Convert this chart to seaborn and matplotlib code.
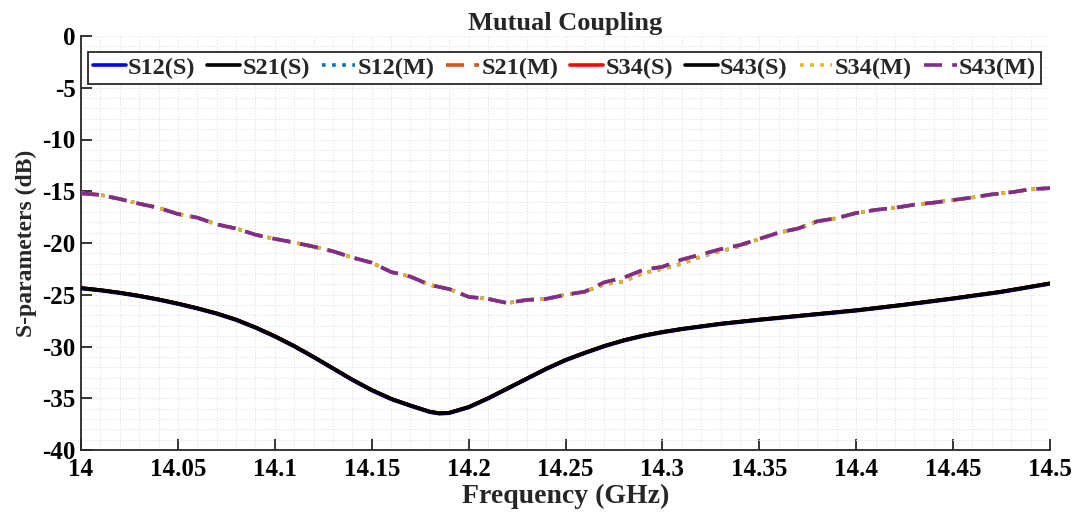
import numpy as np
import pandas as pd
import matplotlib
matplotlib.use("Agg")
import matplotlib.pyplot as plt
import seaborn as sns

# ---------------- data ----------------
freq_meas = [14.00, 14.01, 14.02, 14.03, 14.04, 14.05, 14.06, 14.07, 14.08, 14.09,
             14.10, 14.11, 14.12, 14.13, 14.14, 14.15, 14.16, 14.17, 14.18, 14.19,
             14.20, 14.21, 14.22, 14.23, 14.24, 14.25, 14.26, 14.27, 14.28, 14.29,
             14.30, 14.31, 14.32, 14.33, 14.34, 14.35, 14.36, 14.37, 14.38, 14.39,
             14.40, 14.41, 14.42, 14.43, 14.44, 14.45, 14.46, 14.47, 14.48, 14.49, 14.50]

s34_meas = [-15.2, -15.35, -15.75, -16.2, -16.6, -17.2, -17.55, -18.2, -18.6, -19.2,
            -19.6, -19.95, -20.35, -20.8, -21.4, -21.9, -22.8, -23.25, -24.05, -24.45,
            -25.2, -25.4, -25.8, -25.5, -25.4, -25.0, -24.7, -24.0, -23.7, -22.9,
            -22.5, -22.0, -21.3, -20.8, -20.3, -19.6, -19.0, -18.6, -17.9, -17.6,
            -17.1, -16.8, -16.6, -16.3, -16.1, -15.85, -15.6, -15.3, -15.1, -14.8, -14.7]

s43_meas = [-15.2, -15.35, -15.75, -16.2, -16.6, -17.2, -17.55, -18.2, -18.6, -19.2,
            -19.6, -19.95, -20.35, -20.8, -21.4, -21.9, -22.8, -23.25, -24.05, -24.45,
            -25.2, -25.4, -25.8, -25.5, -25.4, -25.0, -24.7, -23.8, -23.35, -22.6,
            -22.3, -21.6, -21.1, -20.6, -20.2, -19.6, -19.0, -18.6, -17.9, -17.6,
            -17.1, -16.8, -16.6, -16.3, -16.1, -15.85, -15.6, -15.3, -15.1, -14.8, -14.7]

s12_meas = s34_meas
s21_meas = s43_meas

freq_sim = [14.00, 14.01, 14.02, 14.03, 14.04, 14.05, 14.06, 14.07, 14.08, 14.09,
            14.10, 14.11, 14.12, 14.13, 14.14, 14.15, 14.16, 14.17, 14.18, 14.185,
            14.19, 14.20, 14.21, 14.22, 14.23, 14.24, 14.25, 14.26, 14.27, 14.28,
            14.29, 14.30, 14.31, 14.32, 14.33, 14.35, 14.375, 14.40, 14.425, 14.45,
            14.475, 14.50]

s21_sim = [-24.35, -24.55, -24.8, -25.1, -25.45, -25.85, -26.3, -26.8, -27.4, -28.15,
           -29.0, -29.95, -31.0, -32.1, -33.2, -34.2, -35.05, -35.7, -36.3, -36.45,
           -36.4, -35.85, -35.0, -34.05, -33.1, -32.15, -31.3, -30.6, -29.95, -29.4,
           -28.95, -28.6, -28.3, -28.05, -27.8, -27.4, -26.95, -26.5, -25.95, -25.35,
           -24.7, -23.9]
s12_sim = [-24.4, -24.6, -24.85, -25.15, -25.5, -25.9, -26.35, -26.85, -27.45, -28.2,
           -29.05, -30.0, -31.05, -32.15, -33.25, -34.25, -35.1, -35.75, -36.35, -36.5,
           -36.45, -35.9, -35.05, -34.1, -33.15, -32.2, -31.35, -30.65, -30.0, -29.45,
           -29.0, -28.65, -28.35, -28.1, -27.85, -27.45, -27.0, -26.55, -26.0, -25.4,
           -24.75, -23.95]
s34_sim = s21_sim
s43_sim = s21_sim

x_ticks = [14.0, 14.05, 14.1, 14.15, 14.2, 14.25, 14.3, 14.35, 14.4, 14.45, 14.5]
x_tick_labels = ["14", "14.05", "14.1", "14.15", "14.2", "14.25", "14.3", "14.35", "14.4", "14.45", "14.5"]
y_ticks = [0, -5, -10, -15, -20, -25, -30, -35, -40]
y_tick_labels = ["0", "-5", "-10", "-15", "-20", "-25", "-30", "-35", "-40"]

# ---------------- style ----------------
sns.set_theme(style="white")
plt.rcParams['font.family'] = ['Liberation Serif', 'DejaVu Serif']
plt.rcParams['font.weight'] = 'bold'
plt.rcParams['axes.unicode_minus'] = False

fig = plt.figure(figsize=(10.77, 5.14), dpi=100)
ax = fig.add_axes([81/1077, 1-450/514, (1050-81)/1077, (450-36)/514])

lw = 2.6
series = [
    ("S12(S)", freq_sim, s12_sim, "#0000FF", "-"),
    ("S21(S)", freq_sim, s21_sim, "#000000", "-"),
    ("S12(M)", freq_meas, s12_meas, "#0072BD", (0, (1, 1.8))),
    ("S21(M)", freq_meas, s21_meas, "#D95319", (0, (5, 2.8))),
    ("S34(S)", freq_sim, s34_sim, "#FF0000", "-"),
    ("S43(S)", freq_sim, s43_sim, "#000000", "-"),
    ("S34(M)", freq_meas, s34_meas, "#EDB120", (0, (1, 1.8))),
    ("S43(M)", freq_meas, s43_meas, "#7E2F8E", (0, (5, 2.8))),
]
zorders = [3, 5, 3, 3, 4, 5, 6, 7]
handles = []
for (lab, fx, fy, col, ls), z in zip(series, zorders):
    df = pd.DataFrame({"f": fx, "v": fy})
    sns.lineplot(data=df, x="f", y="v", ax=ax, color=col, linestyle=ls,
                 linewidth=lw, label=lab, zorder=z, dash_capstyle="butt")
    handles.append(ax.get_lines()[-1])

ax.set_xlim(14.0, 14.5)
ax.set_ylim(-40, 0)
ax.set_xticks(x_ticks)
ax.set_xticklabels(x_tick_labels)
ax.set_yticks(y_ticks)
ax.set_yticklabels(y_tick_labels)
ax.set_xticks(np.arange(14.0, 14.5001, 0.01), minor=True)
ax.set_yticks(np.arange(-40, 0.001, 1), minor=True)

ax.grid(True, which="both", linestyle=":", linewidth=0.8, color="#e0e0e0")
ax.set_axisbelow(True)
for s in ["top", "right"]:
    ax.spines[s].set_visible(False)
for s in ["left", "bottom"]:
    ax.spines[s].set_color("#262626")
    ax.spines[s].set_linewidth(1.3)
ax.tick_params(axis="both", which="major", direction="in", length=8, width=1.3,
               colors="#262626", labelsize=18, left=True, bottom=True)
ax.tick_params(axis="x", which="major", pad=6)
ax.tick_params(axis="y", which="major", pad=4)
ax.tick_params(axis="both", which="minor", length=0)
for t in ax.get_xticklabels() + ax.get_yticklabels():
    t.set_fontweight("bold")
    t.set_color("black")

ax.set_xlabel("Frequency (GHz)", fontsize=20, fontweight="bold", labelpad=2)
ax.set_ylabel("S-parameters (dB)", fontsize=17, fontweight="bold", labelpad=4)
ax.set_title("Mutual Coupling", fontsize=19, fontweight="bold", pad=4)

leg = ax.legend(handles=handles, labels=[s[0] for s in series], ncol=8,
                loc="upper left", bbox_to_anchor=(7/969, (450-52)/414, 953/969, 0.0),
                mode="expand", borderaxespad=0, handlelength=1.35,
                handletextpad=0.1, columnspacing=0.3, frameon=True, fancybox=False,
                borderpad=0.2, prop={"weight": "bold", "size": 17.5})
leg.get_frame().set_edgecolor("#262626")
leg.get_frame().set_linewidth(1.3)
leg.get_frame().set_facecolor("white")
leg.get_frame().set_alpha(1)

fig.savefig("out.png", dpi=100)
